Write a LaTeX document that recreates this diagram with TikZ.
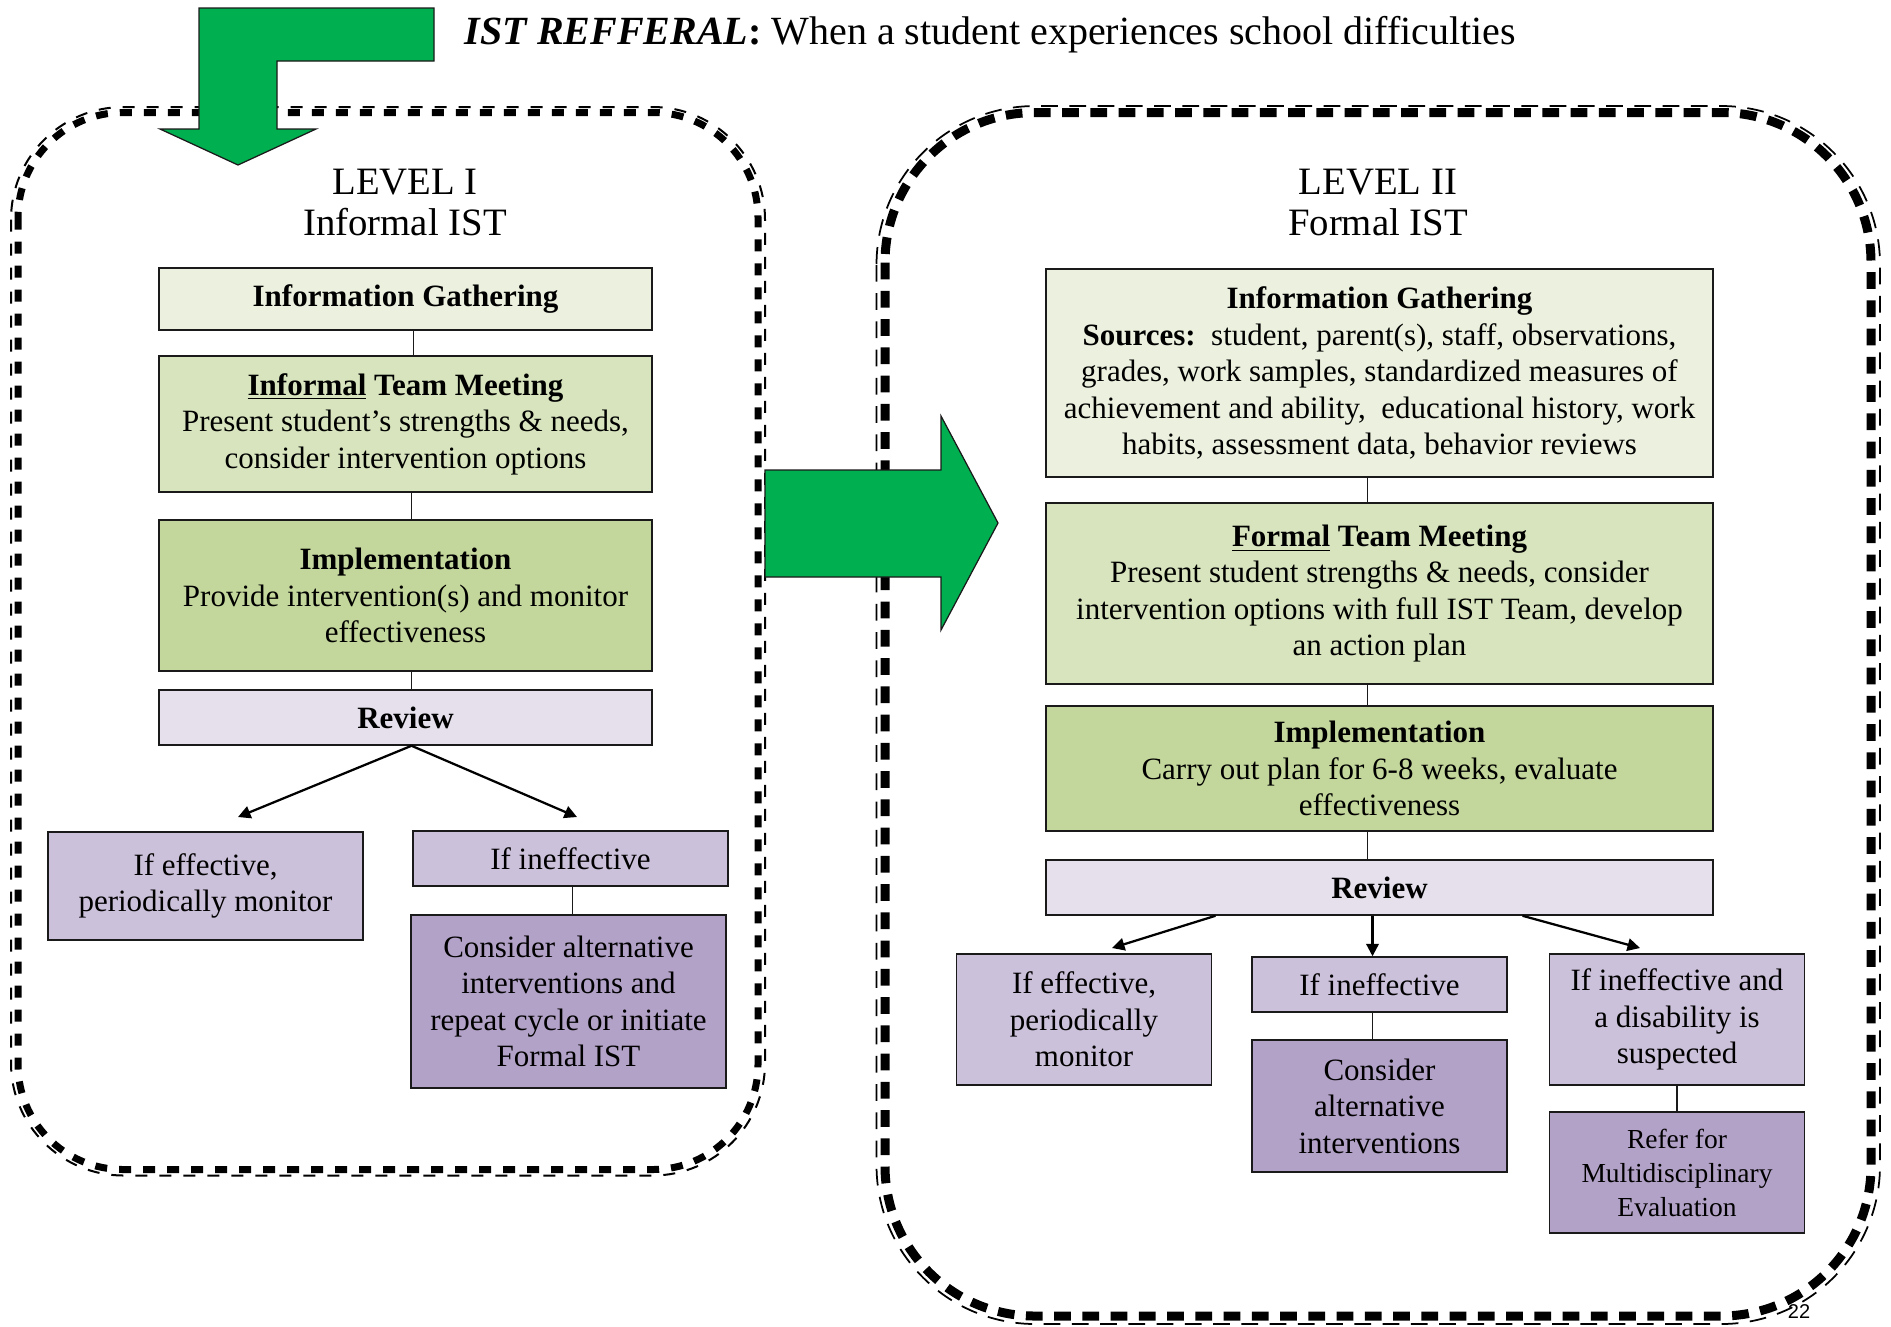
\documentclass[tikz,border=0pt]{standalone}
\usepackage{fontspec}
\setmainfont{Liberation Serif}
\setsansfont{Liberation Sans}
\usetikzlibrary{arrows.meta,calc}
\definecolor{istInk}{HTML}{1A1A1A}
\definecolor{istGreen}{HTML}{00B050}
\definecolor{igFill}{HTML}{EBF1DE}
\definecolor{tmFill}{HTML}{D7E4BD}
\definecolor{imFill}{HTML}{C3D69B}
\definecolor{rvFill}{HTML}{E5E0EC}
\definecolor{ifFill}{HTML}{CCC1DA}
\definecolor{altFill}{HTML}{B3A2C7}

\begin{document}
\begin{tikzpicture}[
  x=0.4pt,y=-0.4pt,
  font=\fontsize{12.4}{14.6}\selectfont,
  box/.style={draw=istInk,line width=0.6pt,align=center,inner sep=2pt},
  widebox/.style={box,minimum width=197.2pt},
  sidebox/.style={box,minimum width=126pt},
  rightbox/.style={box,minimum width=266.8pt},
  smallbox/.style={box,minimum width=102pt},
  heading/.style={font=\fontsize{15.5}{16.4}\selectfont,align=center},
  framethick/.style={draw=black,line width=2.8pt,dash pattern=on 4.8pt off 4.8pt,rounded corners=42pt},
  framethin/.style={draw=black,line width=0.8pt,dash pattern=on 4.8pt off 4.8pt,rounded corners=45pt},
  bigthick/.style={draw=black,line width=3.6pt,dash pattern=on 6.7pt off 4.6pt,rounded corners=60pt},
  bigthin/.style={draw=black,line width=0.7pt,dash pattern=on 6.7pt off 4.6pt,rounded corners=63.5pt},
  bigarrow/.style={fill=istGreen,draw=istInk,line width=0.5pt},
  link/.style={draw=istInk,line width=0.5pt},
  flow/.style={->,draw=black,line width=0.9pt},
  >={Triangle[length=5pt,width=5pt]}
]
% dashed level frames (thick stroke inside, thin stroke outside)
\draw[framethick] (18,112.5) rectangle (758,1169.5);
\draw[framethin] (11,107) rectangle (765,1175.5);
\draw[bigthick] (885,112.5) rectangle (1871,1316);
\draw[bigthin] (876.5,106) rectangle (1880,1324);

% green arrows
\draw[bigarrow] (199,8) -- (434,8) -- (434,61) -- (277,61) -- (277,129) -- (316,129)
  -- (238,165) -- (160,129) -- (199,129) -- cycle;
\draw[bigarrow] (765,470) -- (941,470) -- (941,416) -- (998,523) -- (941,630)
  -- (941,577) -- (765,577) -- cycle;

\node[anchor=base west,font=\fontsize{16}{19}\selectfont] (title) at (456,44)
  {\textbf{\textit{IST REFFERAL}:} When a student experiences school difficulties};

% level I
\node[heading] (lvl1) at (405,202) {LEVEL I\\Informal IST};
\node[widebox,fill=igFill,minimum height=24.8pt] (ig1) at (405.5,299) {\textbf{Information Gathering}};
\node[widebox,fill=tmFill,minimum height=54.4pt] (tm1) at (405.5,424)
  {\textbf{\underline{Informal} Team Meeting}\\Present student's strengths \& needs,\\consider intervention options};
\node[widebox,fill=imFill,minimum height=60.4pt] (im1) at (405.5,595.5)
  {\textbf{Implementation}\\Provide intervention(s) and monitor\\effectiveness};
\node[widebox,fill=rvFill,minimum height=22pt] (rv1) at (405.5,717.5) {\textbf{Review}};
\node[sidebox,fill=ifFill,minimum height=43.2pt] (eff1) at (205.5,886) {If effective,\\periodically monitor};
\node[sidebox,fill=ifFill,minimum height=22pt] (ineff1) at (570.5,858.5) {If ineffective};
\node[sidebox,fill=altFill,minimum height=69.2pt] (alt1) at (568.5,1001.5)
  {Consider alternative\\interventions and\\repeat cycle or initiate\\Formal IST};

\draw[link] ($(ig1.south)+(8,0)$) -- ($(tm1.north)+(8,0)$);
\draw[link] ($(tm1.south)+(6,0)$) -- ($(im1.north)+(6,0)$);
\draw[link] ($(im1.south)+(6,0)$) -- ($(rv1.north)+(6,0)$);
\draw[link] ($(ineff1.south)+(2,0)$) -- ($(alt1.north)+(4,0)$);
\coordinate (r1a) at (238,817);
\coordinate (r1b) at (577,817);
\draw[flow] ($(rv1.south)+(6,0)$) -- (r1a);
\draw[flow] ($(rv1.south)+(6,0)$) -- (r1b);

% level II
\node[heading] (lvl2) at (1378,202) {LEVEL II\\Formal IST};
\node[rightbox,fill=igFill,minimum height=83.2pt] (ig2) at (1379.5,373)
  {\textbf{Information Gathering}\\\textbf{Sources:}\ \ student, parent(s), staff, observations,\\
   grades, work samples, standardized measures of\\achievement and ability,\ \ educational history, work\\
   habits, assessment data, behavior reviews};
\node[rightbox,fill=tmFill,minimum height=72.4pt] (tm2) at (1379.5,593.5)
  {\textbf{\underline{Formal} Team Meeting}\\Present student strengths \& needs, consider\\
   intervention options with full IST Team, develop\\an action plan};
\node[rightbox,fill=imFill,minimum height=50pt] (im2) at (1379.5,768.5)
  {\textbf{Implementation}\\Carry out plan for 6-8 weeks, evaluate\\effectiveness};
\node[rightbox,fill=rvFill,minimum height=22pt] (rv2) at (1379.5,887.5) {\textbf{Review}};
\node[smallbox,fill=ifFill,minimum height=52.4pt] (eff2) at (1084,1019.5) {If effective,\\periodically\\monitor};
\node[smallbox,fill=ifFill,minimum height=22pt] (ineff2) at (1379.5,984.5) {If ineffective};
\node[smallbox,fill=altFill,minimum height=52.8pt] (alt2) at (1379.5,1106) {Consider\\alternative\\interventions};
\node[smallbox,fill=ifFill,minimum height=52.4pt] (dis2) at (1677,1019.5) {If ineffective and\\a disability is\\suspected};
\node[smallbox,fill=altFill,minimum height=48.4pt,font=\fontsize{11}{13.6}\selectfont] (ref2) at (1677,1172.5)
  {Refer for\\Multidisciplinary\\Evaluation};

\draw[link] ($(ig2.south)+(-12,0)$) -- ($(tm2.north)+(-12,0)$);
\draw[link] ($(tm2.south)+(-12,0)$) -- ($(im2.north)+(-12,0)$);
\draw[link] ($(im2.south)+(-12,0)$) -- ($(rv2.north)+(-12,0)$);
\draw[link] ($(ineff2.south)+(-7,0)$) -- ($(alt2.north)+(-7,0)$);
\draw[link] (dis2) -- (ref2);
\coordinate (r2a) at (1112,948);
\coordinate (r2c) at (1640,948);
\draw[flow] ($(rv2.south)+(-164,0)$) -- (r2a);
\draw[flow] ($(rv2.south)+(-7,0)$) -- ($(ineff2.north)+(-7,0)$);
\draw[flow] ($(rv2.south)+(143,0)$) -- (r2c);

\node[font=\sffamily\fontsize{8}{9}\selectfont] (pg) at (1799,1311) {22};

\useasboundingbox (0,0) rectangle (1891,1326);
\end{tikzpicture}
\end{document}
